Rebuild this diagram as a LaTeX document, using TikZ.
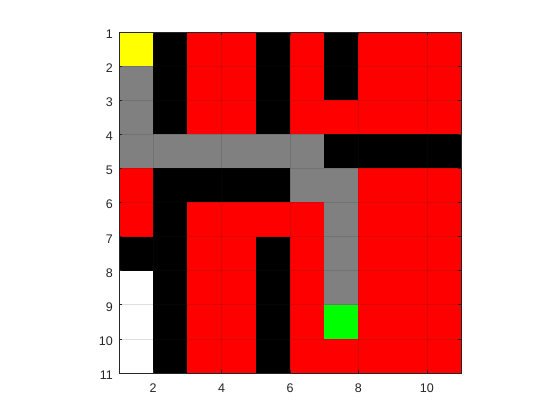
\documentclass[tikz,border=0pt]{standalone}
\usepackage{fontspec}
\setmainfont{Liberation Sans}
\definecolor{cellY}{rgb}{1,1,0}
\definecolor{cellK}{rgb}{0,0,0}
\definecolor{cellR}{rgb}{1,0,0}
\definecolor{cellG}{rgb}{0.5,0.5,0.5}
\definecolor{cellW}{rgb}{1,1,1}
\definecolor{cellL}{rgb}{0,1,0}
\definecolor{axcol}{rgb}{0.15,0.15,0.15}
\begin{document}
\begin{tikzpicture}[x=1pt,y=1pt,
  gridline/.style={draw=axcol, draw opacity=0.15, line width=0.6pt},
  axisline/.style={draw=axcol, line width=0.6pt},
  ticklabel/.style={text=axcol, font=\fontsize{12.5}{14}\selectfont, inner sep=0pt}]
\useasboundingbox (0,0) rectangle (560,420);
\fill[white] (0,0) rectangle (560,420);
\begin{scope}[shift={(84.8,422.1)}, x=34.2pt, y=-34.1pt]
  \foreach \rowdata [count=\r] in {
    {Y,K,R,R,K,R,K,R,R,R},
    {G,K,R,R,K,R,K,R,R,R},
    {G,K,R,R,K,R,R,R,R,R},
    {G,G,G,G,G,G,K,K,K,K},
    {R,K,K,K,K,G,G,R,R,R},
    {R,K,R,R,R,R,G,R,R,R},
    {K,K,R,R,K,R,G,R,R,R},
    {W,K,R,R,K,R,G,R,R,R},
    {W,K,R,R,K,R,L,R,R,R},
    {W,K,R,R,K,R,R,R,R,R}} {
    \foreach \cc [count=\c] in \rowdata {
      \fill[cell\cc] (\c,\r) rectangle ++(1,1);
    }
  }
  \foreach \X in {2,4,6,8,10} \draw[gridline] (\X,1) -- (\X,11);
  \foreach \Y in {1,...,11} \draw[gridline] (1,\Y) -- (11,\Y);
  \draw[axisline] (1,1) rectangle (11,11);
  \foreach \Y in {1,...,11} {
    \draw[axisline] (1,\Y) -- ++(3.4pt,0pt);
    \draw[axisline] (11,\Y) -- ++(-3.4pt,0pt);
    \node[ticklabel, anchor=base east] (yl\Y) at ([xshift=-6pt,yshift=-6.5pt]1,\Y) {\Y};
  }
  \foreach \X in {2,4,6,8,10} {
    \draw[axisline] (\X,11) -- ++(0pt,3.4pt);
    \draw[axisline] (\X,1) -- ++(0pt,-3.4pt);
    \node[ticklabel, anchor=base] (xl\X) at ([yshift=-20pt]\X,11) {\X};
  }
\end{scope}
\end{tikzpicture}
\end{document}
